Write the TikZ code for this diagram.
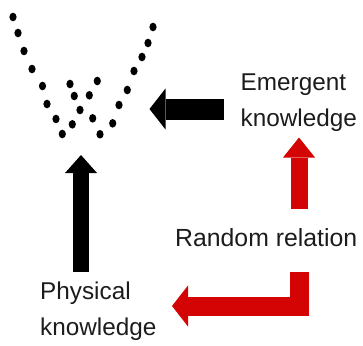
\documentclass[tikz,border=0pt]{standalone}
\usepackage{fontspec}
\setmainfont{Liberation Sans}
\usetikzlibrary{arrows.meta}
\definecolor{arrowred}{RGB}{212,4,4}
\definecolor{inkgray}{RGB}{28,28,28}
\begin{document}
\begin{tikzpicture}[x=1pt,y=-1pt,
  dot/.style={fill=black,draw=none},
  label/.style={inner sep=0pt,anchor=base west,align=left,text=inkgray,
    font=\fontsize{24.3}{36}\selectfont},
  blockarrow/.style={line join=miter,line cap=butt},
]
\useasboundingbox (0,0) rectangle (363,345);

% the dotted V of particles
\foreach \px/\py [count=\i] in {
  13/17, 18/33, 24/51, 32/69, 42.5/86, 47/104, 56/119, 62.3/134,
  153/27, 148/43, 142/57, 134/71, 127.3/90, 119/105, 112.7/123.3, 100/134.3,
  70/84, 97.3/81, 74.3/96, 89.3/95.3, 80/110, 92.7/118.3, 72.3/124.3}
  \fill[dot] (\px,\py) ellipse [x radius=3.6, y radius=4.3];

% labels (base anchor sits on the last line)
\node[label] (emergent) at (240.5,126.7) {Emergent\\knowledge};
\node[label] (physical) at (40,335) {Physical\\knowledge};
\node[label,font=\fontsize{24.8}{36}\selectfont] (random) at (175,246.7) {Random relation};

% arrow end points
\coordinate (emStart) at (224,109);
\coordinate (emTip) at (149.5,109);
\coordinate (phStart) at (81,272);
\coordinate (phTip) at (81,155);
\coordinate (upStart) at (299,208.5);
\coordinate (upTip) at (299,137.5);
\coordinate (lStart) at (299,272);
\coordinate (lCorner) at (299,306);
\coordinate (lTip) at (172,306);

% black arrows into the particle cloud
\draw[blockarrow,black,line width=21pt,
  -{Triangle[length=16pt,width=41pt,line width=0pt]}] (emStart) -- (emTip);
\draw[blockarrow,black,line width=16pt,
  -{Triangle[length=18pt,width=32pt,line width=0pt]}] (phStart) -- (phTip);

% red arrows out of the random relation
\draw[blockarrow,arrowred,line width=17pt,
  -{Triangle[length=20pt,width=32pt,line width=0pt]}] (upStart) -- (upTip);
\draw[blockarrow,arrowred,line width=19pt,
  -{Triangle[length=16pt,width=41pt,line width=0pt]}] (lStart) -- (lCorner) -- (lTip);
\end{tikzpicture}
\end{document}
